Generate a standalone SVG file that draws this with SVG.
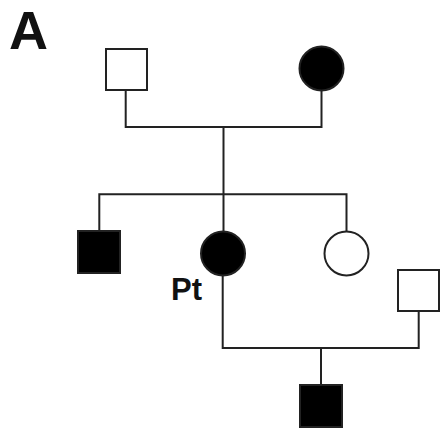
<svg xmlns="http://www.w3.org/2000/svg" width="441" height="429" viewBox="0 0 441 429">
<style>
.o{fill:#fff;stroke:#222;stroke-width:2}
.f{fill:#000;stroke:#222;stroke-width:2}
.l{fill:none;stroke:#222;stroke-width:2}
.t{font-family:"Liberation Sans",Arial,sans-serif;font-weight:bold;fill:#111}
</style>
<rect width="441" height="429" fill="#fff"/>
<text class="t" x="9" y="49" font-size="54">A</text>
<g id="connectors">
<polyline class="l" points="125.7,90 125.7,127 321.5,127 321.5,91"/>
<line class="l" x1="223.5" y1="127" x2="223.5" y2="231"/>
<polyline class="l" points="99.3,231 99.3,194.3 346.5,194.3 346.5,231"/>
<polyline class="l" points="222.7,276 222.7,348 418.7,348 418.7,311"/>
<line class="l" x1="321" y1="348" x2="321" y2="385"/>
</g>
<g id="father"><rect class="o" x="106" y="49" width="41" height="41"/></g>
<g id="mother"><circle class="f" cx="321.5" cy="68.5" r="22"/></g>
<g id="brother"><rect class="f" x="78" y="231" width="42" height="42"/></g>
<g id="patient"><circle class="f" cx="223" cy="253.5" r="22"/><text class="t" x="171" y="300" font-size="31">Pt</text></g>
<g id="sister"><circle class="o" cx="346.5" cy="253.5" r="22"/></g>
<g id="spouse"><rect class="o" x="398" y="270" width="41" height="41"/></g>
<g id="son"><rect class="f" x="300" y="385" width="42" height="42"/></g>
</svg>
